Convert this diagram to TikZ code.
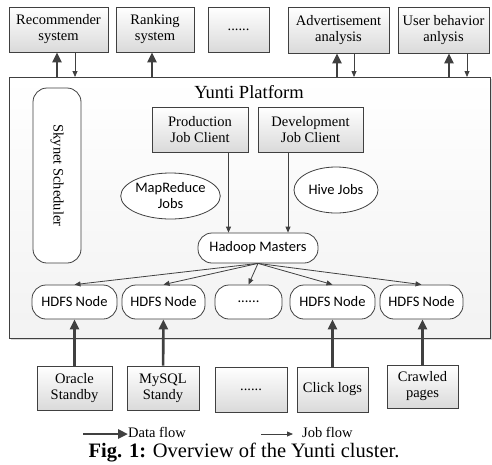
\documentclass[tikz,border=0pt]{standalone}
\usepackage{fontspec}
\setmainfont{Liberation Serif}
\setsansfont{Carlito}
\usetikzlibrary{arrows.meta, positioning, shapes.geometric, shadows}
\definecolor{edge}{HTML}{404040}
\definecolor{boxshade}{HTML}{DADADA}
\tikzset{
  box/.style={rectangle,draw=edge,line width=0.8pt,top color=white,bottom color=boxshade,align=center,inner sep=1pt,
    font=\rmfamily\fontsize{14.5}{16}\selectfont,drop shadow={shadow xshift=1.2pt,shadow yshift=-1.2pt,opacity=.3}},
  pill/.style={rectangle,draw=edge,line width=0.8pt,rounded corners=14pt,fill=white,align=center,inner sep=1pt,
    font=\sffamily\fontsize{14.5}{16}\selectfont},
  job/.style={ellipse,draw=edge,line width=0.8pt,fill=white,align=center,inner sep=0pt,
    font=\sffamily\fontsize{14.5}{16}\selectfont},
  data/.style={-{Triangle[length=10pt,width=9pt]},line width=2.6pt,draw=edge},
  line/.style={-{Triangle[length=6pt,width=5pt]},line width=0.8pt,draw=edge},
  legend/.style={font=\rmfamily\fontsize{14.5}{16}\selectfont,inner sep=0pt,anchor=west}
}

\begin{document}
\begin{tikzpicture}[x=1pt,y=-1pt]
\useasboundingbox (0,0) rectangle (492,464);
\node[box, anchor=north west, minimum width=481pt, minimum height=261pt, bottom color=gray!10] (plat) at (9,77) {};
\node[font=\rmfamily\fontsize{18.5}{20}\selectfont] (title) at (249,92) {Yunti Platform};

\node[box, minimum width=99pt, minimum height=45pt] (rec) at (58.5,29.5) {Recommender\\system};
\node[box, minimum width=78pt, minimum height=45pt] (rank) at (155,29.5) {Ranking\\system};
\node[box, minimum width=61pt, minimum height=45pt] (tdots) at (238.5,29.5) {......};
\node[box, minimum width=101pt, minimum height=46pt] (adv) at (338.5,30) {Advertisement\\analysis};
\node[box, minimum width=91pt, minimum height=46pt] (user) at (443.5,30) {User behavior\\anlysis};

\node[pill, rotate=-90, minimum width=175pt, minimum height=48pt, font=\rmfamily\fontsize{14.5}{16}\selectfont] (sky) at (57,175.5) {Skynet Scheduler};
\node[box, minimum width=96pt, minimum height=45pt] (prod) at (200,129.5) {Production\\Job Client};
\node[box, minimum width=105pt, minimum height=45pt] (dev) at (310.5,129.5) {Development\\Job Client};
\node[job, minimum width=89pt, minimum height=46pt] (mr) at (170.5,196) {MapReduce\\Jobs};
\node[job, minimum width=84pt, minimum height=46pt] (hive) at (336,190) {Hive Jobs};
\node[pill, minimum width=120pt, minimum height=30pt] (hm) at (258,248) {Hadoop Masters};

\node[pill, minimum width=85pt, minimum height=34pt] (h1) at (74.5,302) {HDFS Node};
\node[pill, minimum width=83pt, minimum height=34pt] (h2) at (163.5,302) {HDFS Node};
\node[pill, minimum width=67pt, minimum height=34pt] (h3) at (248.5,302) {......};
\node[pill, minimum width=85pt, minimum height=34pt] (h4) at (332.5,302) {HDFS Node};
\node[pill, minimum width=83pt, minimum height=34pt] (h5) at (421.5,302) {HDFS Node};

\node[box, minimum width=75pt, minimum height=44pt] (ora) at (74.5,388) {Oracle\\Standby};
\node[box, minimum width=72pt, minimum height=44pt] (mysql) at (163,388) {MySQL\\Standy};
\node[box, minimum width=72pt, minimum height=45pt] (bdots) at (251,389.5) {......};
\node[box, minimum width=71pt, minimum height=45pt] (click) at (332.5,389.5) {Click logs};
\node[box, minimum width=71pt, minimum height=43pt] (crawl) at (422.5,386.5) {Crawled\\pages};

\draw[data] ([xshift=-1.5pt]rec.south |- plat.north) -- ([xshift=-1.5pt]rec.south);
\draw[line] ([xshift=16.5pt]rec.south) -- ([xshift=16.5pt]rec.south |- plat.north);
\draw[data] ([xshift=-3pt]rank.south |- plat.north) -- ([xshift=-3pt]rank.south);
\draw[data] ([xshift=-1.5pt]adv.south |- plat.north) -- ([xshift=-1.5pt]adv.south);
\draw[line] ([xshift=15.5pt]adv.south) -- ([xshift=15.5pt]adv.south |- plat.north);
\draw[data] ([xshift=5.5pt]user.south |- plat.north) -- ([xshift=5.5pt]user.south);
\draw[line] ([xshift=23.5pt]user.south) -- ([xshift=23.5pt]user.south |- plat.north);

\draw[line] ([xshift=28.5pt]prod.south) -- ([xshift=28.5pt]prod.south |- hm.north);
\draw[line] ([xshift=-22.5pt]dev.south) -- ([xshift=-22.5pt]dev.south |- hm.north);
\foreach \n in {h1,h2,h3,h4,h5}
  \draw[line] (hm.south) -- (\n.north);

\draw[data] (ora) -- (h1);
\draw[data] (mysql) -- (h2);
\draw[data] (click) -- (h4);
\draw[data] (crawl.north) -- (crawl.north |- h5.south);

\coordinate (dstart) at (83,434);
\node[legend] (dflow) at (128,432) {Data flow};
\draw[data] (dstart) -- (dflow.west |- dstart);
\coordinate (jstart) at (261,434);
\node[legend] (jflow) at (302,432) {Job flow};
\draw[line] (jstart) -- ([xshift=-9pt]jflow.west |- jstart);
\node[font=\rmfamily\fontsize{20.5}{22}\selectfont] (cap) at (244,453) {\textbf{Fig. 1:} Overview of the Yunti cluster.};
\end{tikzpicture}
\end{document}
